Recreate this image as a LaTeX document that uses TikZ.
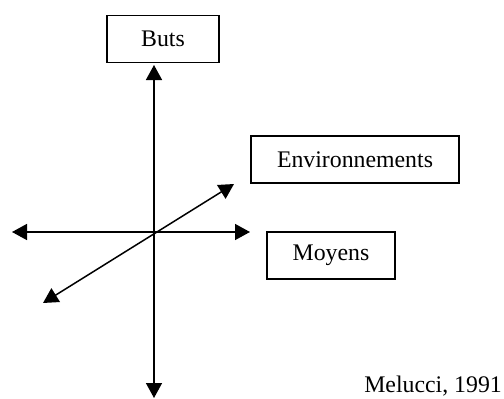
\documentclass[tikz,border=0pt]{standalone}
\usepackage{fontspec}
\setmainfont{Liberation Serif}
\usetikzlibrary{arrows.meta}

\begin{document}
\begin{tikzpicture}[x=1pt, y=-1pt,
    axisbox/.style={draw, line width=1.4pt, inner sep=0pt, minimum height=47pt,
        font=\fontsize{23.8}{28}\selectfont},
    axis/.style={{Triangle[length=15pt,width=16pt]}-{Triangle[length=15pt,width=16pt]}, line width=1.5pt}]
\useasboundingbox (0,0) rectangle (504,399);

\node[axisbox, minimum width=112pt] (buts) at (163,39) {Buts};
\node[axisbox, minimum width=208pt] (env) at (355,159.5) {Environnements};
\node[axisbox, minimum width=128pt] (moy) at (331,255.5) {Moyens};
\node[anchor=base east, inner sep=0pt, font=\fontsize{23.8}{28}\selectfont] (src) at (502,392)
{Melucci, 1991};

\coordinate (top) at (154,65);
\coordinate (bottom) at (154,398);
\coordinate (left) at (12,232);
\coordinate (right) at (250,232);
\coordinate (upright) at (234,184);
\coordinate (lowleft) at (43,303);

\draw[axis] (bottom) -- (top);

\draw[axis] (left) -- (right);

\draw[axis] (lowleft) -- (upright);

\end{tikzpicture}
\end{document}
